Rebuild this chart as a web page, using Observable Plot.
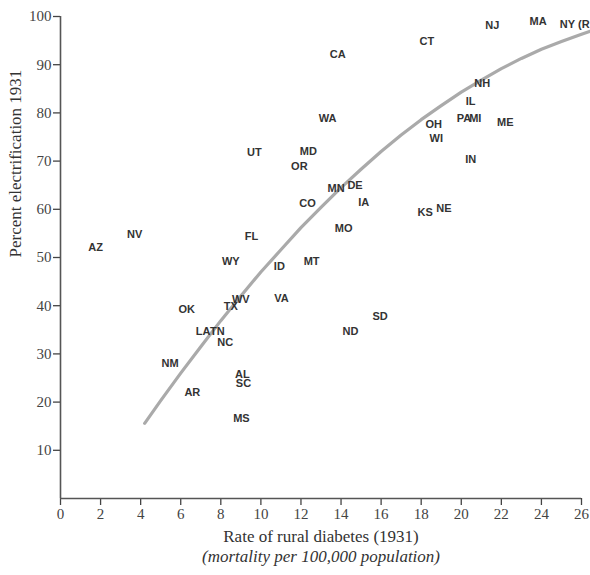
<!DOCTYPE html>
<html><head><meta charset="utf-8">
<script src="https://cdn.jsdelivr.net/npm/d3@7"></script>
<script src="https://cdn.jsdelivr.net/npm/@observablehq/plot@0.6"></script>
<style>body{margin:0;background:#fff}#chart svg{display:block}</style>
</head><body><div id="chart"></div>
<script>
const states = ["AZ","NV","FL","WY","ID","MT","MO","VA","WV","TX","OK","LA","TN","NC","SD","ND","NM","AL","SC","AR","MS","CA","WA","UT","MD","OR","CO","MN","DE","IA","KS","NE","CT","NJ","MA","NH","IL","PA","MI","ME","OH","WI","IN"];
const diabetes = [1.75,3.7,9.53,8.5,10.92,12.53,14.13,11.03,9.0,8.5,6.3,7.12,7.83,8.22,15.95,14.47,5.47,9.08,9.13,6.58,9.03,13.83,13.33,9.67,12.37,11.92,12.33,13.75,14.7,15.13,18.2,19.13,18.28,21.55,23.83,21.05,20.47,20.13,20.7,22.2,18.63,18.75,20.47];
const electrification = [52.1,54.8,54.4,49.2,48.2,49.2,56.0,41.6,41.3,39.9,39.2,34.6,34.6,32.4,37.8,34.7,28.1,25.7,23.8,22.1,16.7,92.1,78.8,71.8,72.1,68.9,61.3,64.3,64.9,61.5,59.3,60.1,94.9,98.1,99.0,86.2,82.4,78.8,78.8,78.1,77.6,74.6,70.3];
const edgeLabel = ["NY (R"];
const edgeX = [24.92];
const edgeY = [98.3];
const fitX = [4.2,5,6,7,8,9,10,11,12,13,14,15,16,17,18,19,20,21,22,23,24,25,26,26.4];
const fitY = [15.6,20.3,26.0,31.5,36.9,42.0,47.0,51.6,56.2,60.4,64.5,68.3,72.0,75.4,78.6,81.5,84.3,86.8,89.2,91.3,93.2,94.8,96.3,96.9];
const xTicks = [0,2,4,6,8,10,12,14,16,18,20,22,24,26];
const yTicks = [10,20,30,40,50,60,70,80,90,100];
const xTitle = "Rate of rural diabetes (1931)";
const xSubtitle = "(mortality per 100,000 population)";
const yTitle = "Percent electrification 1931";

const points = states.map((s, i) => ({state: s, x: diabetes[i], y: electrification[i]}));
const edge = edgeLabel.map((s, i) => ({state: s, x: edgeX[i], y: edgeY[i]}));
const fit = fitX.map((x, i) => ({x, y: fitY[i]}));

const chart = Plot.plot({
  width: 590, height: 575,
  marginLeft: 60, marginRight: 9, marginTop: 16, marginBottom: 77,
  x: {domain: [0, 26]},
  y: {domain: [0, 100]},
  style: {fontFamily: "'Liberation Serif', 'Times New Roman', serif", fontSize: "15px", color: "#444", background: "#fff", overflow: "hidden"},
  marks: [
    Plot.axisX({ticks: xTicks, tickSize: 7, tickPadding: 3, label: null, tickFormat: d => String(d), strokeWidth: 1.3}),
    Plot.axisY({ticks: yTicks, tickSize: 7, tickPadding: 2, label: null, tickFormat: d => String(d), strokeWidth: 1.3}),
    Plot.ruleX([0], {stroke: "#555", strokeWidth: 1.6}),
    Plot.ruleY([0], {stroke: "#555", strokeWidth: 1.6}),
    Plot.line(fit, {x: "x", y: "y", stroke: "#aaa", strokeWidth: 3.2}),
    Plot.text(points, {x: "x", y: "y", text: "state", fontFamily: "'Liberation Sans', Arial, sans-serif", fontWeight: "bold", fontSize: 11, fill: "#333"}),
    Plot.text(edge, {x: "x", y: "y", text: "state", textAnchor: "start", fontFamily: "'Liberation Sans', Arial, sans-serif", fontWeight: "bold", fontSize: 11, fill: "#333"}),
    Plot.text([xTitle], {frameAnchor: "bottom", dy: 43, fontSize: 17, fill: "#333"}),
    Plot.text([xSubtitle], {frameAnchor: "bottom", dy: 63, fontSize: 17, fontStyle: "italic", fill: "#333"}),
    Plot.text([yTitle], {frameAnchor: "left", dx: -45, rotate: -90, fontSize: 17, fill: "#333"})
  ]
});
document.getElementById("chart").appendChild(chart);
</script>
</body></html>
